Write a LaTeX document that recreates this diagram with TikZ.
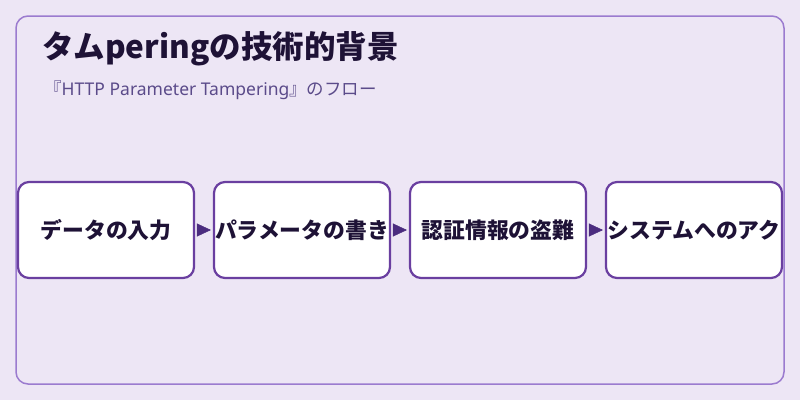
\documentclass[tikz,border=0pt]{standalone}
\usepackage{fontspec}
\setmainfont{Noto Sans CJK JP}
\newfontfamily\latinsans{Noto Sans}
\usetikzlibrary{positioning,arrows.meta}
\definecolor{bgcol}{HTML}{EDE6F5}
\definecolor{framecol}{HTML}{9B7BCF}
\definecolor{boxcol}{HTML}{6A3FA0}
\definecolor{arrowcol}{HTML}{4B2C7F}
\definecolor{titlecol}{HTML}{1E1236}
\definecolor{subcol}{HTML}{5B4B8A}
\begin{document}
\begin{tikzpicture}[
		x=1pt, y=-1pt,
		step box/.style={draw=boxcol, line width=2.2pt, fill=white, rounded corners=11pt,
			minimum width=176pt, minimum height=96pt, inner sep=0pt,
			font=\fontsize{21.8}{25}\selectfont\bfseries, text=titlecol},
		flow/.style={-{Triangle[length=14pt,width=13pt]}, draw=arrowcol, fill=arrowcol, line width=0.5pt,
			shorten <=3pt, shorten >=2pt}
	]
	\fill[bgcol] (0,0) rectangle (800,400);
	\draw[framecol, line width=1.5pt, rounded corners=12pt] (16,16) rectangle (784,384);
	\node[anchor=base west, text=titlecol, font=\fontsize{31.5}{34}\selectfont\bfseries, inner sep=0pt] (title) at (42,58) {タムperingの技術的背景};
	\node[anchor=base west, text=subcol, font=\fontsize{17.5}{20}\selectfont, inner sep=0pt] (sub) at (44,95) {『{\latinsans HTTP Parameter Tampering}』のフロー};
	\node[step box] (input) at (106,230) {データの入力};
	\node[step box, right=17.8pt of input] (rewrite) {パラメータの書き};
	\node[step box, right=17.8pt of rewrite] (steal) {認証情報の盗難};
	\node[step box, right=17.8pt of steal] (access) {システムへのアク};
	\draw[flow] (input) -- (rewrite);
	\draw[flow] (rewrite) -- (steal);
	\draw[flow] (steal) -- (access);
\end{tikzpicture}
\end{document}
